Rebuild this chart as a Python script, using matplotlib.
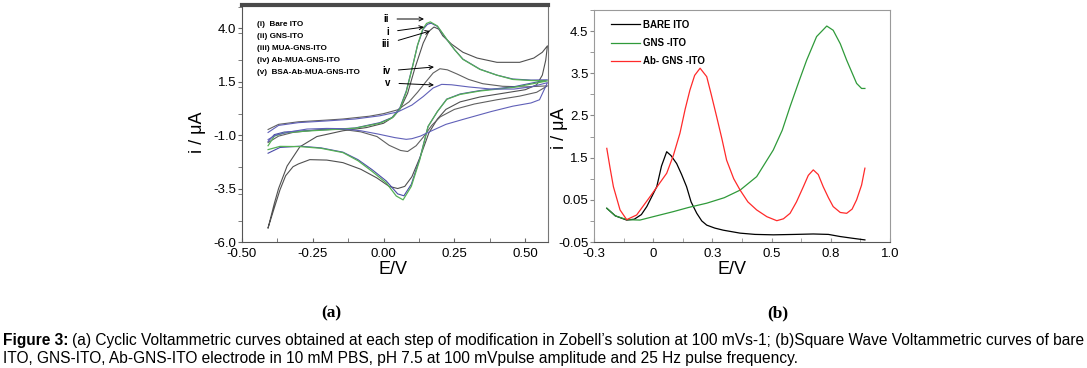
import matplotlib
matplotlib.use("Agg")
import matplotlib.pyplot as plt
from matplotlib import font_manager
from matplotlib.ticker import MultipleLocator, FixedLocator, FixedFormatter

plt.rcParams["font.family"] = "Liberation Sans"

names = set(f.name for f in font_manager.fontManager.ttflist)
narrow = "Liberation Sans Narrow" if "Liberation Sans Narrow" in names else "Liberation Sans"

# ---- panel (a): cyclic voltammograms (forward scan then reverse scan) ----
cv_i_E = [-0.407, -0.385, -0.35, -0.28, -0.2, -0.1, -0.013, 0.03, 0.057, 0.08, 0.103, 0.12, 0.14, 0.155, 0.168,
          0.19, 0.223, 0.25, 0.28, 0.34, 0.4, 0.456, 0.52, 0.578,
          0.46, 0.34, 0.27, 0.223, 0.19, 0.157, 0.128, 0.098, 0.072, 0.05, 0.01, -0.04, -0.09, -0.143,
          -0.22, -0.294, -0.365, -0.407]
cv_i_I = [-1.3, -0.98, -0.86, -0.8, -0.75, -0.67, -0.42, -0.18, 0.25, 1.05, 2.25, 3.2, 3.95, 4.18, 4.23,
          4.08, 3.47, 3.0, 2.55, 2.08, 1.8, 1.62, 1.57, 1.58,
          1.26, 1.08, 0.92, 0.68, 0.1, -0.6, -2.1, -3.3, -3.84, -3.75, -3.15, -2.62, -2.15, -1.8,
          -1.6, -1.52, -1.58, -1.85]

cv_ii_E = [-0.407, -0.385, -0.35, -0.28, -0.2, -0.1, -0.013, 0.03, 0.057, 0.08, 0.103, 0.12, 0.138, 0.152, 0.165,
           0.19, 0.223, 0.25, 0.28, 0.34, 0.4, 0.456, 0.52, 0.578,
           0.46, 0.34, 0.27, 0.223, 0.19, 0.157, 0.128, 0.098, 0.069, 0.045, 0.01, -0.04, -0.09, -0.143,
           -0.22, -0.294, -0.365, -0.407]
cv_ii_I = [-1.5, -1.05, -0.9, -0.82, -0.76, -0.68, -0.45, -0.2, 0.2, 1.0, 2.23, 3.2, 3.95, 4.22, 4.29,
           4.1, 3.48, 3.0, 2.54, 2.07, 1.8, 1.6, 1.55, 1.53,
           1.23, 1.06, 0.9, 0.67, 0.1, -0.6, -2.15, -3.4, -4.03, -3.85, -3.24, -2.7, -2.2, -1.82,
           -1.62, -1.54, -1.53, -1.68]

cv_iii_E = [-0.407, -0.385, -0.37, -0.34, -0.295, -0.235, -0.143, -0.06, 0.0, 0.035, 0.06, 0.085, 0.11, 0.14, 0.16,
            0.178, 0.195, 0.209, 0.24, 0.28, 0.33, 0.4, 0.48, 0.53, 0.56, 0.578,
            0.572, 0.56, 0.54, 0.5, 0.42, 0.34, 0.27, 0.22, 0.19, 0.16, 0.13, 0.1, 0.075, 0.05, 0.02, -0.024,
            -0.08, -0.143, -0.2, -0.26, -0.3, -0.319, -0.345, -0.365, -0.385, -0.407]
cv_iii_I = [-5.34, -4.2, -3.5, -2.45, -1.55, -1.07, -0.8, -0.65, -0.45, -0.15, 0.25, 0.95, 2.1, 3.3, 3.85,
            4.05, 3.95, 3.64, 3.25, 2.87, 2.6, 2.4, 2.4, 2.6, 2.87, 3.17,
            2.5, 1.8, 1.35, 1.12, 0.95, 0.78, 0.55, 0.2, -0.25, -0.9, -2.0, -2.95, -3.4, -3.5, -3.4, -3.0,
            -2.6, -2.29, -2.17, -2.15, -2.35, -2.48, -2.9, -3.56, -4.4, -5.34]

cv_iv_E = [-0.407, -0.37, -0.3, -0.2, -0.143, -0.05, 0.0, 0.05, 0.09, 0.12, 0.15, 0.175, 0.199, 0.225, 0.26,
           0.3, 0.35, 0.42, 0.5, 0.578,
           0.54, 0.48, 0.4, 0.32, 0.25, 0.2, 0.17, 0.14, 0.115, 0.085, 0.06, 0.02, -0.023, -0.08, -0.143,
           -0.22, -0.32, -0.37, -0.407]
cv_iv_I = [-0.74, -0.5, -0.38, -0.3, -0.25, -0.12, 0.0, 0.18, 0.55, 1.0, 1.5, 1.9, 2.1, 2.05, 1.85,
           1.6, 1.4, 1.28, 1.25, 1.3,
           1.0, 0.82, 0.65, 0.45, 0.2, -0.15, -0.55, -1.1, -1.5, -1.77, -1.72, -1.48, -1.07, -0.85, -0.74,
           -0.74, -0.88, -1.05, -1.35]

cv_v_E = [-0.407, -0.37, -0.3, -0.2, -0.1, -0.013, 0.05, 0.1, 0.14, 0.175, 0.205, 0.24, 0.3, 0.38, 0.46, 0.52, 0.578,
          0.55, 0.52, 0.456, 0.38, 0.28, 0.22, 0.17, 0.13, 0.1, 0.08, 0.04, -0.02, -0.08, -0.15, -0.2,
          -0.27, -0.33, -0.38, -0.407]
cv_v_I = [-0.88, -0.55, -0.42, -0.34, -0.25, -0.1, 0.08, 0.4, 0.8, 1.2, 1.37, 1.35, 1.25, 1.15, 1.15, 1.25, 1.45,
          0.65, 0.5, 0.35, 0.1, -0.27, -0.5, -0.8, -1.05, -1.17, -1.2, -1.12, -0.95, -0.8, -0.7, -0.69,
          -0.72, -0.85, -1.0, -1.21]

cv_legend = ["(i)  Bare ITO", "(ii) GNS-ITO", "(iii) MUA-GNS-ITO", "(iv) Ab-MUA-GNS-ITO", "(v)  BSA-Ab-MUA-GNS-ITO"]
arrow_labels = ["ii", "i", "iii", "iv", "v"]

# ---- panel (b): square wave voltammograms ----
sw_bare_E = [-0.196, -0.16, -0.112, -0.08, -0.05, -0.027, 0.015, 0.035, 0.057, 0.075, 0.099, 0.12, 0.141, 0.16,
             0.184, 0.205, 0.226, 0.26, 0.296, 0.367, 0.43, 0.507, 0.6, 0.676, 0.74, 0.789, 0.84, 0.894]
sw_bare_I = [0.30, 0.12, 0.02, 0.04, 0.15, 0.34, 0.81, 1.3, 1.64, 1.55, 1.36, 1.1, 0.81, 0.45,
             0.18, 0.0, -0.1, -0.17, -0.22, -0.29, -0.32, -0.33, -0.32, -0.31, -0.32, -0.37, -0.41, -0.45]

sw_gns_E = [-0.196, -0.16, -0.112, -0.056, 0.0, 0.085, 0.15, 0.226, 0.3, 0.367, 0.437, 0.507, 0.545, 0.578,
            0.615, 0.648, 0.69, 0.733, 0.76, 0.79, 0.817, 0.859, 0.88, 0.894]
sw_gns_I = [0.30, 0.12, 0.03, 0.02, 0.1, 0.22, 0.32, 0.42, 0.55, 0.73, 1.05, 1.68, 2.15, 2.71,
            3.3, 3.81, 4.37, 4.62, 4.52, 4.2, 3.81, 3.26, 3.14, 3.14]

sw_ab_E = [-0.196, -0.182, -0.168, -0.14, -0.112, -0.07, -0.014, 0.057, 0.085, 0.113, 0.135, 0.155, 0.175, 0.198,
           0.226, 0.245, 0.268, 0.29, 0.31, 0.34, 0.367, 0.4, 0.437, 0.48, 0.522, 0.55, 0.578, 0.605, 0.634,
           0.655, 0.676, 0.697, 0.718, 0.74, 0.76, 0.79, 0.817, 0.84, 0.859, 0.88, 0.894]
sw_ab_I = [1.72, 1.25, 0.81, 0.26, 0.03, 0.14, 0.57, 1.13, 1.55, 2.08, 2.65, 3.1, 3.45, 3.62,
           3.42, 3.0, 2.47, 1.95, 1.44, 1.0, 0.73, 0.45, 0.26, 0.1, 0.005, 0.05, 0.18, 0.45, 0.81,
           1.08, 1.21, 1.1, 0.81, 0.55, 0.34, 0.2, 0.18, 0.28, 0.5, 0.85, 1.25]

sw_legend = ["BARE ITO", "GNS -ITO", "Ab- GNS -ITO"]
sw_yticks = [-0.5, 0.5, 1.5, 2.5, 3.5, 4.5]
sw_ytick_labels = ["-0.05", "0.05", "1.5", "2.5", "3.5", "4.5"]
sw_xticks = [-0.25, 0.0, 0.25, 0.5, 0.75, 1.0]
sw_xtick_labels = ["-0.3", "0", "0.3", "0.5", "0.8", "1.0"]

caption1 = "(a) Cyclic Voltammetric curves obtained at each step of modification in Zobell\u2019s solution at 100 mVs-1; (b)Square Wave Voltammetric curves of bare"
caption2 = "ITO, GNS-ITO, Ab-GNS-ITO electrode in 10 mM PBS, pH 7.5 at 100 mVpulse amplitude and 25 Hz pulse frequency."

W, H = 1087, 368
fig = plt.figure(figsize=(W / 100, H / 100), dpi=100)

def box(x0, y0, x1, y1):
    return [x0 / W, 1 - y1 / H, (x1 - x0) / W, (y1 - y0) / H]

# ---------------- (a) ----------------
ax1 = fig.add_axes(box(241.7, 5, 548, 242))
ax1.plot(cv_iii_E, cv_iii_I, color="#505050", lw=0.8)
ax1.plot(cv_iv_E, cv_iv_I, color="#606060", lw=0.8)
ax1.plot(cv_i_E, cv_i_I, color="#4a4aa8", lw=0.8)
ax1.plot(cv_ii_E, cv_ii_I, color="#55b055", lw=0.9)
ax1.plot(cv_v_E, cv_v_I, color="#6060b8", lw=0.8)
ax1.set_xlim(-0.5, 0.58)
ax1.set_ylim(-6.0, 5.08)
ax1.set_xticks([-0.5, -0.25, 0.0, 0.25, 0.5])
ax1.set_xticklabels(["-0.50", "-0.25", "0.00", "0.25", "0.50"])
ax1.set_yticks([4.0, 1.5, -1.0, -3.5, -6.0])
ax1.set_yticklabels(["4.0", "1.5", "-1.0", "-3.5", "-6.0"])
ax1.xaxis.set_minor_locator(MultipleLocator(0.125))
ax1.yaxis.set_minor_locator(MultipleLocator(1.25))
ax1.tick_params(axis="x", which="both", direction="in", length=3, color="#666666", labelsize=9.5, pad=4)
ax1.tick_params(axis="y", which="both", direction="out", length=3, color="#666666", labelsize=9.5, pad=1)
for s in ["left", "bottom"]:
    ax1.spines[s].set_color("#555555")
ax1.spines["top"].set_color("#4a4a4a")
ax1.spines["top"].set_linewidth(3)
ax1.spines["right"].set_color("#777777")
fig.text(197 / W, 1 - 132 / H, "i / \u03bcA", rotation=90, ha="center", va="center", fontsize=13)
fig.text(393 / W, 1 - 270 / H, "E/V", ha="center", va="center", fontsize=13)

leg_y = [25, 36, 48, 60, 72]
for lab, yy in zip(cv_legend, leg_y):
    ax1.text(257 / W, 1 - yy / H, lab, transform=fig.transFigure, fontsize=5.9,
             family=narrow, fontweight="bold", va="center", ha="left")

arr_txt = [(386, 19), (388, 32), (386, 44), (386, 71), (388, 83)]
arr_tip = [(424, 19), (424, 27), (430, 31), (434, 67), (434, 85)]
for lab, (tx, ty), (hx, hy) in zip(arrow_labels, arr_txt, arr_tip):
    ax1.annotate(lab, xy=(hx / W, 1 - hy / H), xycoords="figure fraction",
                 xytext=(tx / W, 1 - ty / H), textcoords="figure fraction",
                 fontsize=7, fontweight="bold", family=narrow, ha="center", va="center",
                 arrowprops=dict(arrowstyle="->", color="black", lw=0.7, shrinkA=4, shrinkB=0))

# ---------------- (b) ----------------
ax2 = fig.add_axes(box(594, 10, 890, 242))
ax2.plot(sw_bare_E, sw_bare_I, color="black", lw=0.9, label=sw_legend[0])
ax2.plot(sw_gns_E, sw_gns_I, color="#2f9a3a", lw=0.9, label=sw_legend[1])
ax2.plot(sw_ab_E, sw_ab_I, color="#ff2a2a", lw=0.9, label=sw_legend[2])
ax2.set_xlim(-0.25, 1.0)
ax2.set_ylim(-0.5, 5.0)
ax2.xaxis.set_major_locator(FixedLocator(sw_xticks))
ax2.xaxis.set_major_formatter(FixedFormatter(sw_xtick_labels))
ax2.yaxis.set_major_locator(FixedLocator(sw_yticks))
ax2.yaxis.set_major_formatter(FixedFormatter(sw_ytick_labels))
ax2.xaxis.set_minor_locator(MultipleLocator(0.125))
ax2.yaxis.set_minor_locator(MultipleLocator(0.5))
ax2.tick_params(axis="x", which="both", direction="in", length=3, color="#999999", labelsize=9.5, pad=4)
ax2.tick_params(axis="y", which="both", direction="out", length=3, color="#888888", labelsize=9.5, pad=1)
for s in ["left", "top", "right"]:
    ax2.spines[s].set_color("#9a9a9a")
ax2.spines["bottom"].set_color("#555555")
leg = ax2.legend(loc="upper left", bbox_to_anchor=(0.057, 0.958), frameon=False, handlelength=3.0,
                 handletextpad=0.3, labelspacing=0.85, borderaxespad=0, borderpad=0,
                 prop=dict(family=narrow, weight="bold", size=7))
fig.text(560 / W, 1 - 128 / H, "i / \u03bcA", rotation=90, ha="center", va="center", fontsize=13)
fig.text(732 / W, 1 - 270 / H, "E/V", ha="center", va="center", fontsize=13)

# ---------------- panel letters and caption ----------------
fig.text(331 / W, 1 - 313 / H, "(a)", ha="center", va="center", fontsize=12.5,
         family="Liberation Serif", fontweight="bold")
fig.text(778 / W, 1 - 313 / H, "(b)", ha="center", va="center", fontsize=12.5,
         family="Liberation Serif", fontweight="bold")
t = fig.text(3 / W, 1 - 341 / H, "Figure 3:", ha="left", va="center", fontsize=11.2, fontweight="bold")
fig.canvas.draw()
bb = t.get_window_extent()
fig.text(bb.x1 / W + 3 / W, 1 - 341 / H, caption1, ha="left", va="center", fontsize=11.2)
fig.text(3 / W, 1 - 358 / H, caption2, ha="left", va="center", fontsize=11.2)

fig.savefig("out.png", dpi=100)
